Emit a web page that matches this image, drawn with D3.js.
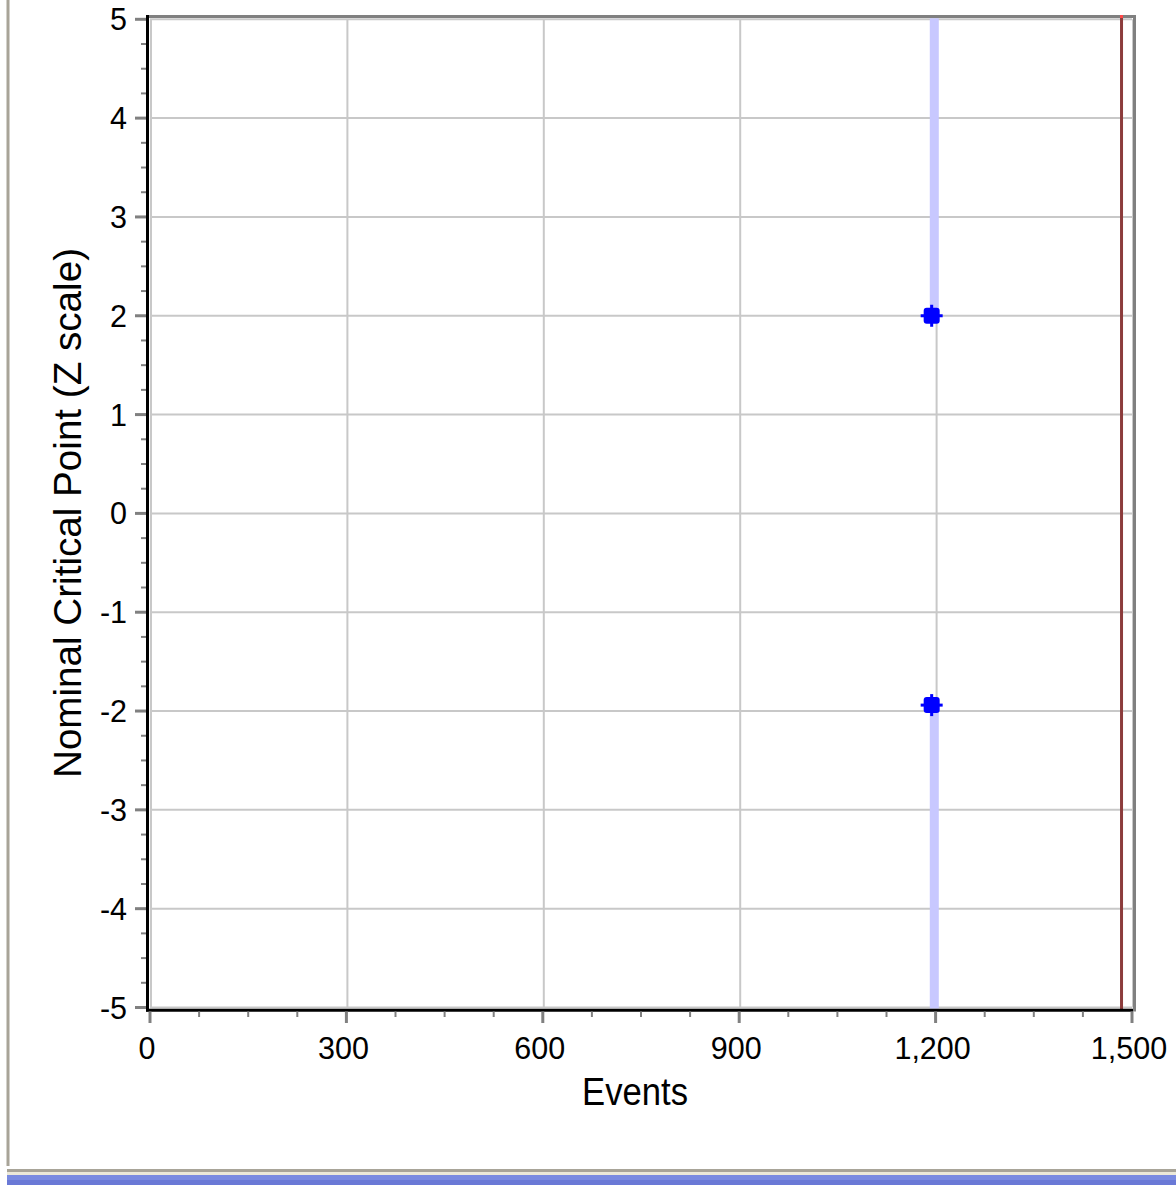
<!DOCTYPE html>
<html>
<head>
<meta charset="utf-8">
<script src="https://cdn.jsdelivr.net/npm/d3@7"></script>
<style>
  html, body { margin: 0; padding: 0; background: #ffffff; overflow: hidden; }
  svg { display: block; }
  text { font-family: "Liberation Sans", Arial, sans-serif; fill: #000; }
</style>
</head>
<body>
<script>
// ---- data ----
const xTickValues = [0, 300, 600, 900, 1200, 1500];
const yTickValues = [-5, -4, -3, -2, -1, 0, 1, 2, 3, 4, 5];
const xDomain = [0, 1500];
const yDomain = [-5, 5];
const analysisEvents = [1194];          // look at which boundaries are drawn
const upperBoundary = [2.0];            // upper critical point (Z)
const lowerBoundary = [-1.94];          // lower critical point (Z)
const rejectionEvents = [1198];         // shaded rejection region position
const maxEvents = [1484];               // maximum (planned) events line
const xLabel = "Events";
const yLabel = "Nominal Critical Point (Z scale)";

// ---- layout ----
const W = 1176, H = 1185;
const svg = d3.select("body").append("svg").attr("width", W).attr("height", H);

const x = d3.scaleLinear().domain(xDomain).range([150, 1132]);
const y = d3.scaleLinear().domain(yDomain).range([1007.5, 19.3]);

// window chrome
svg.append("rect").attr("x", 6.5).attr("y", 0).attr("width", 3).attr("height", 1166).attr("fill", "#a8a498");
svg.append("rect").attr("x", 7).attr("y", 1169).attr("width", W - 7).attr("height", 3).attr("fill", "#a8a498");
svg.append("rect").attr("x", 7).attr("y", 1172).attr("width", W - 7).attr("height", 3).attr("fill", "#ece9d8");
svg.append("rect").attr("x", 7).attr("y", 1175).attr("width", W - 7).attr("height", 5).attr("fill", "#7a8be0");
svg.append("rect").attr("x", 7).attr("y", 1180).attr("width", W - 7).attr("height", 5).attr("fill", "#6a79d6");

// gridlines
const grid = svg.append("g");
grid.selectAll("line.gx").data(xTickValues).enter().append("line")
  .attr("x1", d => x(d) + 1).attr("x2", d => x(d) + 1)
  .attr("y1", y(5)).attr("y2", y(-5))
  .attr("stroke", "#c8c8c8").attr("stroke-width", 2);
grid.selectAll("line.gy").data(yTickValues).enter().append("line")
  .attr("x1", x(0)).attr("x2", x(1500))
  .attr("y1", d => y(d)).attr("y2", d => y(d))
  .attr("stroke", "#c8c8c8").attr("stroke-width", 2);

// rejection regions (light blue bands from boundary to plot edge)
const bands = svg.append("g");
rejectionEvents.forEach((e, i) => {
  bands.append("line")
    .attr("x1", x(e)).attr("x2", x(e))
    .attr("y1", y(5) - 1).attr("y2", y(upperBoundary[i]))
    .attr("stroke", "#c8c8ff").attr("stroke-width", 9);
  bands.append("line")
    .attr("x1", x(e)).attr("x2", x(e))
    .attr("y1", y(lowerBoundary[i])).attr("y2", y(-5) + 1)
    .attr("stroke", "#c8c8ff").attr("stroke-width", 9);
});

// frame: top and right dark gray
svg.append("line").attr("x1", 146).attr("x2", 1136).attr("y1", 16.5).attr("y2", 16.5)
  .attr("stroke", "#808080").attr("stroke-width", 3);
svg.append("line").attr("x1", 1134.5).attr("x2", 1134.5).attr("y1", 15).attr("y2", 1011.5)
  .attr("stroke", "#808080").attr("stroke-width", 3);

// max events line
maxEvents.forEach(e => {
  svg.append("line").attr("x1", x(e)).attr("x2", x(e)).attr("y1", 15).attr("y2", 1009)
    .attr("stroke", "#8c3c3c").attr("stroke-width", 3);
  svg.append("line").attr("x1", x(e)).attr("x2", x(e)).attr("y1", 15).attr("y2", 18)
    .attr("stroke", "#ff4848").attr("stroke-width", 3);
});

// black axis lines
svg.append("line").attr("x1", 147.5).attr("x2", 147.5).attr("y1", 15).attr("y2", 1011.5)
  .attr("stroke", "#000").attr("stroke-width", 3);
svg.append("line").attr("x1", 146).attr("x2", 1133).attr("y1", 1010.3).attr("y2", 1010.3)
  .attr("stroke", "#000").attr("stroke-width", 3);

// y ticks
const yMinor = d3.range(-5, 5.001, 0.25).filter(v => Math.abs(v - Math.round(v)) > 1e-6);
svg.selectAll("line.ymin").data(yMinor).enter().append("line")
  .attr("x1", 141).attr("x2", 146).attr("y1", d => y(d)).attr("y2", d => y(d))
  .attr("stroke", "#808080").attr("stroke-width", 2);
svg.selectAll("line.ymaj").data(yTickValues).enter().append("line")
  .attr("x1", 135).attr("x2", 146).attr("y1", d => y(d)).attr("y2", d => y(d))
  .attr("stroke", "#808080").attr("stroke-width", 3);
svg.selectAll("text.ylab").data(yTickValues).enter().append("text")
  .attr("x", 127).attr("y", d => y(d) + 11)
  .attr("text-anchor", "end").attr("font-size", 30.5)
  .text(d => String(d));

// x ticks
const xMinor = d3.range(0, 1500.001, 75).filter(v => v % 300 !== 0);
svg.selectAll("line.xmin").data(xMinor).enter().append("line")
  .attr("x1", d => x(d)).attr("x2", d => x(d)).attr("y1", 1011.5).attr("y2", 1017)
  .attr("stroke", "#808080").attr("stroke-width", 2);
svg.selectAll("line.xmaj").data(xTickValues).enter().append("line")
  .attr("x1", d => x(d)).attr("x2", d => x(d)).attr("y1", 1011.5).attr("y2", 1023)
  .attr("stroke", "#808080").attr("stroke-width", 3);
svg.selectAll("text.xlab").data(xTickValues).enter().append("text")
  .attr("x", d => x(d) - 3).attr("y", 1059)
  .attr("text-anchor", "middle").attr("font-size", 30.5)
  .text(d => d3.format(",")(d));

// boundary markers
const pts = [];
analysisEvents.forEach((e, i) => {
  pts.push({ e, z: upperBoundary[i] });
  pts.push({ e, z: lowerBoundary[i] });
});
const mk = svg.append("g").selectAll("g").data(pts).enter().append("g")
  .attr("transform", d => `translate(${x(d.e)},${y(d.z)})`);
mk.append("rect").attr("x", -8).attr("y", -8).attr("width", 16).attr("height", 16)
  .attr("rx", 3).attr("fill", "#0000ff");
mk.append("rect").attr("x", -1.5).attr("y", -11).attr("width", 3).attr("height", 22).attr("fill", "#0000ff");
mk.append("rect").attr("x", -11).attr("y", -1.5).attr("width", 22).attr("height", 3).attr("fill", "#0000ff");

// axis titles
svg.append("text").attr("x", 635).attr("y", 1105).attr("text-anchor", "middle")
  .attr("font-size", 39).attr("textLength", 106).attr("lengthAdjust", "spacingAndGlyphs")
  .text(xLabel);
svg.append("text").attr("transform", "translate(81,513) rotate(-90)")
  .attr("text-anchor", "middle")
  .attr("font-size", 38.5).attr("textLength", 530).attr("lengthAdjust", "spacingAndGlyphs")
  .text(yLabel);
</script>
</body>
</html>
